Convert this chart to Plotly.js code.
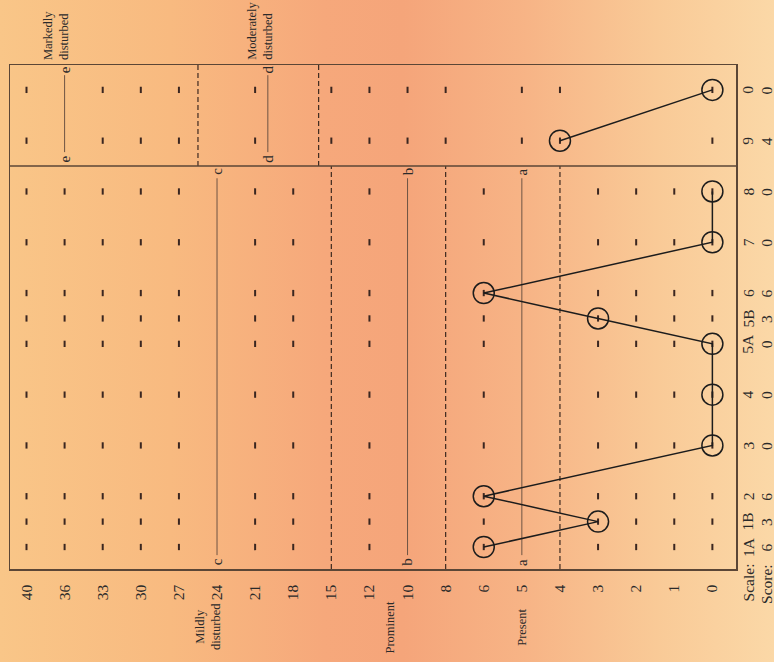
<!DOCTYPE html>
<html>
<head>
<meta charset="utf-8">
<script src="https://cdn.plot.ly/plotly-3.0.1.min.js"></script>
<style>
html, body { margin:0; padding:0; }
body {
  width:774px; height:662px; overflow:hidden;
  background: linear-gradient(to right, #f9c688 0%, #f8ba80 22%, #f6a87b 42%, #f5a57a 52%, #f7b486 68%, #f9ca97 85%, #fbd8a7 100%);
}
#chart { width:774px; height:662px; }
</style>
</head>
<body>
<div id="chart"></div>
<script>
// ---- data ----
const scoreTicks = [40,36,33,30,27,24,21,18,15,12,10,8,6,5,4,3,2,1,0];
const scales = ['1A','1B','2','3','4','5A','5B','6','7','8','9','0'];
const scaleScores = [6,3,6,0,0,0,3,6,0,0,4,0];
const scalePos = [0,1,2,4,6,8,9,10,12,14,16,18];   // column slots on the scale axis
const lowerScales = ['1A','1B','2','3','4','5A','5B','6','7','8'];
const upperScales = ['9','0'];
const gridScoresLower = [40,36,33,30,27,21,18,12,6,3,2,1,0];
const gridScoresUpper = [40,33,30,27,21,15,12,10,8,5,4,0];
const cutoffsLower = [15,8,4];
const cutoffsUpper = [25.5,16];
const levelLinesLower = [{letter:'a', score:5},{letter:'b', score:10},{letter:'c', score:24}];
const levelLinesUpper = [{letter:'d', score:20},{letter:'e', score:36}];
const levelLabels = [
  {text:'Present', score:5, shift:0, align:'center', side:'bottom'},
  {text:'Prominent', score:10, shift:-18, align:'center', side:'bottom'},
  {text:'Mildly<br>disturbed', score:24, shift:-9, align:'center', side:'bottom'},
  {text:'Moderately<br>disturbed', score:20, shift:-8, align:'left', side:'top'},
  {text:'Markedly<br>disturbed', score:36, shift:-8, align:'left', side:'top'}
];

// ---- helpers ----
function scoreToPos(v){
  for (let i=0;i<scoreTicks.length;i++){ if (scoreTicks[i]===v) return i; }
  for (let i=0;i<scoreTicks.length-1;i++){
    const a=scoreTicks[i], b=scoreTicks[i+1];
    if (v<a && v>b) return i + (a-v)/(a-b);
  }
  return null;
}
function slot(s){ return scalePos[scales.indexOf(s)]; }

const yMin = -0.866, yMax = 18.98, ySplit = 15;
const serif = 'Liberation Serif, Times New Roman, serif';
const ink = '#1c1c1c';
const frameCol = '#5b4636';

const traces = [];

// grid tick marks
function gridTrace(scList, scoreList){
  const x=[], y=[];
  scList.forEach(s=>{ scoreList.forEach(v=>{ x.push(scoreToPos(v)); y.push(slot(s)); }); });
  return {type:'scatter', mode:'markers', x, y, hoverinfo:'skip',
    marker:{symbol:'line-ns', size:4.5, line:{width:2, color:'#3a2620'}}};
}
traces.push(gridTrace(lowerScales, gridScoresLower));
traces.push(gridTrace(upperScales, gridScoresUpper));

// dashed cut-off lines
function dashTrace(vals, y0, y1){
  const x=[], y=[];
  vals.forEach(v=>{ const p=scoreToPos(v); x.push(p,p,null); y.push(y0,y1,null); });
  return {type:'scatter', mode:'lines', x, y, hoverinfo:'skip',
    line:{color:'#3e2a20', width:1.2, dash:'5px,3px'}};
}
traces.push(dashTrace(cutoffsLower, yMin, ySplit));
traces.push(dashTrace(cutoffsUpper, ySplit, yMax));

// level lines a-e
function levelTrace(list, y0, y1){
  const x=[], y=[];
  list.forEach(o=>{ const p=scoreToPos(o.score); x.push(p,p,null); y.push(y0,y1,null); });
  return {type:'scatter', mode:'lines', x, y, hoverinfo:'skip',
    line:{color:'#6e5444', width:1}};
}
traces.push(levelTrace(levelLinesLower, -0.32, 14.52));
traces.push(levelTrace(levelLinesUpper, 15.55, 18.58));

// profile lines
const lowerIdx = scales.map((s,i)=>i).filter(i=>lowerScales.includes(scales[i]));
const upperIdx = scales.map((s,i)=>i).filter(i=>upperScales.includes(scales[i]));
[lowerIdx, upperIdx].forEach(idx=>{
  traces.push({type:'scatter', mode:'lines+markers',
    x: idx.map(i=>scoreToPos(scaleScores[i])),
    y: idx.map(i=>scalePos[i]),
    hoverinfo:'skip', cliponaxis:false,
    line:{color:ink, width:1.5},
    marker:{symbol:'circle-open', size:21, color:ink, line:{width:1.5, color:ink}}});
});

// annotations
const ann = [];
const letterFont = {family:serif, size:15, color:'#2a2a2a'};
levelLinesLower.forEach(o=>{
  const p=scoreToPos(o.score);
  [-0.6, 14.78].forEach(yy=>ann.push({x:p, y:yy, xref:'x', yref:'y', text:o.letter, showarrow:false,
    textangle:-90, xanchor:'center', yanchor:'middle', font:letterFont}));
});
levelLinesUpper.forEach(o=>{
  const p=scoreToPos(o.score);
  [15.28, 18.8].forEach(yy=>ann.push({x:p, y:yy, xref:'x', yref:'y', text:o.letter, showarrow:false,
    textangle:-90, xanchor:'center', yanchor:'middle', font:letterFont}));
});
const labFont = {family:serif, size:12.5, color:'#2a2a2a'};
levelLabels.forEach(o=>{
  const a = {x:scoreToPos(o.score), xref:'x', yref:'paper', text:o.text, showarrow:false,
    textangle:-90, xanchor:'center', xshift:o.shift, align:o.align, font:labFont};
  if (o.side==='bottom'){ a.y = -0.115; a.yanchor='middle'; }
  else { a.y = 1.006; a.yanchor='bottom'; }
  ann.push(a);
});
const tickFont = {family:serif, size:15.5, color:'#2a2a2a'};
scales.forEach((s,i)=>{
  ann.push({x:1.0165, y:scalePos[i], xref:'paper', yref:'y', text:s, showarrow:false,
    textangle:-90, xanchor:'center', yanchor:'middle', font:tickFont});
  ann.push({x:1.042, y:scalePos[i], xref:'paper', yref:'y', text:String(scaleScores[i]), showarrow:false,
    textangle:-90, xanchor:'center', yanchor:'middle', font:tickFont});
});
ann.push({x:1.0165, y:0.015, xref:'paper', yref:'paper', text:'Scale:', showarrow:false,
  textangle:-90, xanchor:'center', yanchor:'top', font:tickFont});
ann.push({x:1.042, y:0.015, xref:'paper', yref:'paper', text:'Score:', showarrow:false,
  textangle:-90, xanchor:'center', yanchor:'top', font:tickFont});

const layout = {
  width:774, height:662,
  margin:{l:10, r:38, t:65, b:93, pad:0},
  paper_bgcolor:'rgba(0,0,0,0)', plot_bgcolor:'rgba(0,0,0,0)',
  showlegend:false,
  xaxis:{range:[-0.433, 18.62], tickmode:'array', tickvals:scoreTicks.map((v,i)=>i),
    ticktext:scoreTicks.map(String), tickangle:-90, ticks:'', ticklabelstandoff:8,
    tickfont:tickFont, showgrid:false, zeroline:false,
    showline:true, mirror:true, linecolor:frameCol, linewidth:1.5, fixedrange:true},
  yaxis:{range:[yMin, yMax], showticklabels:false, ticks:'', showgrid:false, zeroline:false,
    showline:true, mirror:true, linecolor:frameCol, linewidth:1.5, fixedrange:true},
  shapes:[{type:'line', xref:'paper', yref:'y', x0:0, x1:1, y0:ySplit, y1:ySplit,
    line:{color:frameCol, width:1.5}}],
  annotations:ann
};

Plotly.newPlot('chart', traces, layout, {staticPlot:true, displayModeBar:false});
</script>
</body>
</html>
